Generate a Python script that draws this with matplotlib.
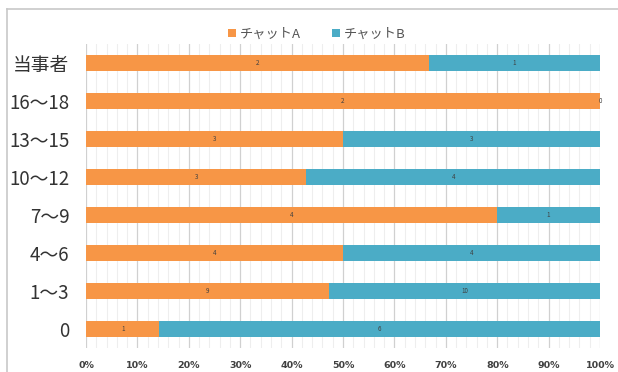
import matplotlib
matplotlib.use("Agg")
import matplotlib.pyplot as plt
from matplotlib.ticker import MultipleLocator, PercentFormatter
import numpy as np

plt.rcParams['font.family'] = ['Noto Sans CJK JP', 'DejaVu Sans']

# data (top to bottom as in the chart)
categories = ['当事者', '16～18', '13～15', '10～12', '7～9', '4～6', '1～3', '0']
chart_a = [2, 2, 3, 3, 4, 4, 9, 1]
chart_b = [1, 0, 3, 4, 1, 4, 10, 6]
series_names = ['チャットA', 'チャットB']

col_a = '#F79646'
col_b = '#4BACC6'

a = np.array(chart_a, dtype=float)
b = np.array(chart_b, dtype=float)
tot = a + b
pa = a / tot * 100
pb = b / tot * 100

fig = plt.figure(figsize=(6.18, 3.72), dpi=100)
ax = fig.add_axes([86 / 618, 1 - 348 / 372, 514 / 618, 304 / 372])

y = np.arange(len(categories))[::-1]
h = 0.42
ba = ax.barh(y, pa, height=h, color=col_a, label=series_names[0], zorder=3)
bb = ax.barh(y, pb, left=pa, height=h, color=col_b, label=series_names[1], zorder=3)

# data labels
for i in range(len(categories)):
    ax.text(pa[i] / 2, y[i], str(chart_a[i]), ha='center', va='center',
            fontsize=4.5, color='#404040', zorder=4)
    ax.text(pa[i] + pb[i] / 2, y[i], str(chart_b[i]), ha='center', va='center',
            fontsize=4.5, color='#404040', zorder=4)

ax.set_xlim(0, 100)
ax.set_ylim(-0.5, len(categories) - 0.5)
ax.xaxis.set_major_locator(MultipleLocator(10))
ax.xaxis.set_minor_locator(MultipleLocator(2))
ax.xaxis.set_major_formatter(PercentFormatter(decimals=0))
ax.grid(which='major', axis='x', color='#d0d0d0', lw=0.9, zorder=0)
ax.grid(which='minor', axis='x', color='#eeeeee', lw=0.8, zorder=0)
ax.tick_params(axis='x', which='both', length=0, pad=9, labelsize=6.8, labelcolor='#404040')
for t in ax.get_xticklabels():
    t.set_fontweight('bold')
    t.set_family('DejaVu Sans')

ax.set_yticks(y)
ax.set_yticklabels(categories, fontsize=13.5, color='#333333')
ax.tick_params(axis='y', length=0, pad=12)
for s in ax.spines.values():
    s.set_visible(False)

leg = fig.legend(handles=[ba, bb], loc='center', bbox_to_anchor=(317 / 618, 1 - 34 / 372),
                 ncol=2, frameon=False, fontsize=9.5, handlelength=0.6, handleheight=0.6,
                 handletextpad=0.3, columnspacing=2.4, labelcolor='#555555')

# chart frame (top and left edges visible)
fig.add_artist(plt.Line2D([7 / 618, 1], [1 - 9 / 372] * 2, color='#c8c8c8', lw=1.2))
fig.add_artist(plt.Line2D([7 / 618] * 2, [0, 1 - 9 / 372], color='#c8c8c8', lw=1.2))

fig.savefig('out.png', dpi=100)
